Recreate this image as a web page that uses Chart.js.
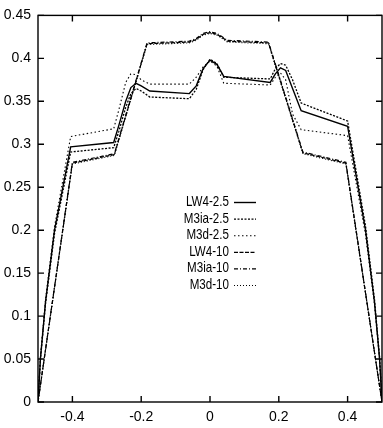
<!DOCTYPE html>
<html>
<head>
<meta charset="utf-8">
<script src="https://cdn.jsdelivr.net/npm/chart.js@4.4.1/dist/chart.umd.min.js"></script>
<style>
  html, body { margin: 0; padding: 0; background: #fff; }
  canvas { display: block; }
</style>
</head>
<body>
<canvas id="chart" width="383" height="428"></canvas>
<script>
// axis ticks
const xTicks = [-0.4, -0.2, 0, 0.2, 0.4];
const yTicks = [0, 0.05, 0.1, 0.15, 0.2, 0.25, 0.3, 0.35, 0.4, 0.45];

// the "10" runs nearly coincide, so they share their break points
const topX    = [-0.5, -0.4, -0.278, -0.183, -0.06, -0.04, -0.02, 0, 0.02, 0.04, 0.05, 0.17, 0.27, 0.395, 0.5];
const lw4_10  = [0, 0.278, 0.288, 0.417, 0.419, 0.422, 0.428, 0.430, 0.428, 0.423, 0.420, 0.418, 0.290, 0.278, 0];
const m3ia_10 = [0, 0.279, 0.289, 0.418, 0.420, 0.423, 0.429, 0.431, 0.429, 0.424, 0.421, 0.419, 0.291, 0.279, 0];
const m3d_10  = [0, 0.277, 0.287, 0.416, 0.418, 0.421, 0.427, 0.429, 0.427, 0.422, 0.419, 0.417, 0.289, 0.277, 0];

// the "2.5" runs
const midX = [-0.5, -0.493, -0.478, -0.452, -0.405, -0.28, -0.265, -0.245, -0.23, -0.215, -0.2, -0.175,
              -0.06, -0.04, -0.02, 0, 0.02, 0.04, 0.175, 0.19, 0.205, 0.22, 0.24, 0.265, 0.4, 0.452, 0.478, 0.493, 0.5];
const lw4_25  = [0, 0.050, 0.117, 0.200, 0.297, 0.302, 0.322, 0.350, 0.366, 0.371, 0.368, 0.362,
                 0.359, 0.368, 0.388, 0.398, 0.393, 0.379, 0.372, 0.382, 0.389, 0.386, 0.365, 0.339, 0.321, 0.200, 0.117, 0.050, 0];
const m3ia_25 = [0, 0.049, 0.115, 0.196, 0.291, 0.296, 0.315, 0.343, 0.359, 0.365, 0.362, 0.355,
                 0.353, 0.364, 0.387, 0.399, 0.394, 0.378, 0.376, 0.388, 0.394, 0.392, 0.375, 0.348, 0.327, 0.205, 0.120, 0.052, 0];
const m3d_25  = [0, 0.052, 0.120, 0.204, 0.309, 0.318, 0.340, 0.372, 0.382, 0.381, 0.375, 0.370,
                 0.370, 0.378, 0.390, 0.397, 0.391, 0.371, 0.369, 0.378, 0.383, 0.375, 0.335, 0.317, 0.310, 0.195, 0.114, 0.049, 0];

const pts = (xs, ys) => xs.map((x, i) => ({ x, y: ys[i] }));
const fmt = v => String(Number(v.toFixed(2)));

function line(label, xs, ys, dash, width) {
  return {
    label,
    data: pts(xs, ys),
    borderColor: '#000',
    borderWidth: width,
    borderDash: dash,
    pointRadius: 0,
    tension: 0,
    fill: false
  };
}

// boxed frame with inward ticks on all four sides, gnuplot style
const frame = {
  id: 'frame',
  afterDatasetsDraw(chart) {
    const { ctx, chartArea: a, scales } = chart;
    ctx.save();
    ctx.strokeStyle = '#000';
    ctx.lineWidth = 1.4;
    ctx.setLineDash([]);
    ctx.strokeRect(a.left, a.top, a.right - a.left, a.bottom - a.top);
    ctx.beginPath();
    xTicks.forEach(v => {
      const x = scales.x.getPixelForValue(v);
      ctx.moveTo(x, a.bottom); ctx.lineTo(x, a.bottom - 6);
      ctx.moveTo(x, a.top); ctx.lineTo(x, a.top + 6);
    });
    yTicks.forEach(v => {
      const y = scales.y.getPixelForValue(v);
      ctx.moveTo(a.left, y); ctx.lineTo(a.left + 6, y);
      ctx.moveTo(a.right, y); ctx.lineTo(a.right - 6, y);
    });
    ctx.stroke();
    ctx.restore();
  }
};

// right-aligned key with line sample to its right
const key = {
  id: 'key',
  afterDatasetsDraw(chart) {
    const { ctx } = chart;
    ctx.save();
    ctx.font = '14.5px "Liberation Sans", Arial, sans-serif';
    ctx.textAlign = 'right';
    ctx.textBaseline = 'middle';
    ctx.fillStyle = '#000';
    chart.data.datasets.forEach((ds, i) => {
      const y = 202 + i * 16.6;
      ctx.save();
      ctx.translate(229, y);
      ctx.scale(0.8, 1);
      ctx.fillText(ds.label, 0, 0);
      ctx.restore();
      ctx.strokeStyle = ds.borderColor;
      ctx.lineWidth = ds.borderWidth;
      ctx.setLineDash(ds.borderDash);
      ctx.beginPath();
      ctx.moveTo(234, y + 0.5);
      ctx.lineTo(256, y + 0.5);
      ctx.stroke();
    });
    ctx.restore();
  }
};

new Chart(document.getElementById('chart'), {
  type: 'line',
  data: {
    datasets: [
      line('LW4-2.5', midX, lw4_25, [], 1.4),
      line('M3ia-2.5', midX, m3ia_25, [2, 1.5], 1.3),
      line('M3d-2.5', midX, m3d_25, [1.5, 2.5], 1.1),
      line('LW4-10', topX, lw4_10, [4, 1.5], 1.2),
      line('M3ia-10', topX, m3ia_10, [4, 2, 1, 2], 1.2),
      line('M3d-10', topX, m3d_10, [1, 2], 1.1)
    ]
  },
  options: {
    responsive: false,
    animation: false,
    devicePixelRatio: 1,
    layout: { padding: { top: 14, right: 1, left: 0, bottom: 0 } },
    plugins: { legend: { display: false }, tooltip: { enabled: false } },
    scales: {
      x: {
        type: 'linear',
        min: -0.5,
        max: 0.5,
        afterBuildTicks: s => { s.ticks = xTicks.map(value => ({ value })); },
        afterFit: s => { s.height = 26; },
        grid: { display: false, drawTicks: false },
        border: { display: false },
        ticks: {
          padding: 7,
          color: '#000',
          font: { family: '"Liberation Sans", Arial, sans-serif', size: 14 },
          callback: fmt,
          maxRotation: 0
        }
      },
      y: {
        type: 'linear',
        min: 0,
        max: 0.45,
        afterBuildTicks: s => { s.ticks = yTicks.map(value => ({ value })); },
        afterFit: s => { s.width = 38; },
        grid: { display: false, drawTicks: false },
        border: { display: false },
        ticks: {
          padding: 7,
          color: '#000',
          font: { family: '"Liberation Sans", Arial, sans-serif', size: 14 },
          callback: fmt
        }
      }
    }
  },
  plugins: [frame, key]
});
</script>
</body>
</html>
